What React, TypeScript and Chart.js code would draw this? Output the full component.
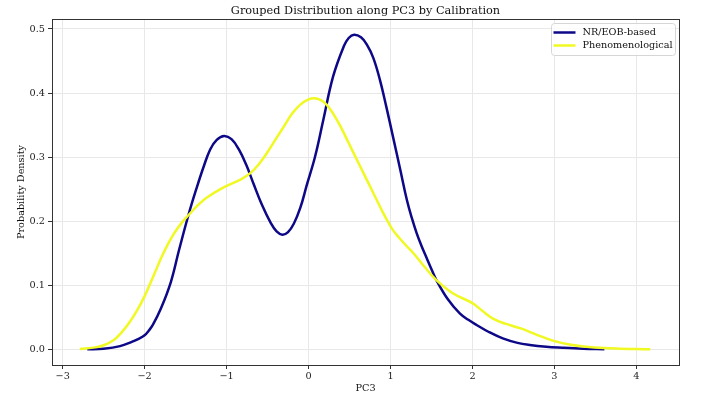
import { useEffect, useRef } from "react";
import { Chart, registerables } from "chart.js";

Chart.register(...registerables);

const TITLE = "Grouped Distribution along PC3 by Calibration";
const X_LABEL = "PC3";
const Y_LABEL = "Probability Density";

const seriesNames = ["NR/EOB-based", "Phenomenological"];
const seriesColors = ["#0d0887", "#f0f921"];

// Kernel density estimate, NR/EOB-based calibrations
const nrX = [
  -2.7, -2.5, -2.3, -2.15, -2.08, -2.0, -1.95, -1.9, -1.8, -1.68, -1.58, -1.46, -1.36, -1.28, -1.2,
  -1.12, -1.03, -0.94, -0.85, -0.76, -0.67, -0.57, -0.46, -0.39, -0.32, -0.25, -0.18, -0.1, -0.02, 0.08,
  0.18, 0.3, 0.43, 0.49, 0.556, 0.64, 0.71, 0.79, 0.87, 0.95, 1.03, 1.12, 1.2, 1.26, 1.32, 1.38, 1.44,
  1.5, 1.56, 1.7, 1.845, 1.95, 2.05, 2.2, 2.37, 2.55, 2.7, 2.9, 3.1, 3.35, 3.61,
];
const nrY = [
  0.0, 0.001, 0.005, 0.012, 0.016, 0.022, 0.029, 0.038, 0.064, 0.105, 0.155, 0.212, 0.254, 0.285, 0.312,
  0.327, 0.333, 0.328, 0.312, 0.288, 0.258, 0.226, 0.197, 0.184, 0.179, 0.183, 0.196, 0.221, 0.257, 0.301,
  0.358, 0.426, 0.473, 0.486, 0.491, 0.487, 0.476, 0.455, 0.421, 0.378, 0.332, 0.28, 0.233, 0.205, 0.181,
  0.161, 0.143, 0.125, 0.108, 0.078, 0.056, 0.046, 0.038, 0.027, 0.017, 0.01, 0.0067, 0.004, 0.0025,
  0.001, 0.0,
];

// Kernel density estimate, phenomenological calibrations
const phX = [
  -2.79, -2.6, -2.49, -2.38, -2.29, -2.19, -2.09, -2.0, -1.93, -1.86, -1.8, -1.72, -1.64, -1.55, -1.46,
  -1.35, -1.24, -1.03, -0.83, -0.71, -0.6, -0.51, -0.4, -0.3, -0.2, -0.1, 0.0, 0.07, 0.15, 0.22, 0.3,
  0.39, 0.49, 0.59, 0.69, 0.79, 0.91, 0.97, 1.03, 1.1, 1.19, 1.28, 1.42, 1.56, 1.76, 2.0, 2.12, 2.25,
  2.4, 2.58, 2.78, 2.98, 3.2, 3.39, 3.6, 3.8, 4.0, 4.17,
];
const phY = [
  0.0005, 0.003, 0.0067, 0.014, 0.025, 0.041, 0.061, 0.083, 0.103, 0.124, 0.142, 0.163, 0.181, 0.197,
  0.21, 0.225, 0.237, 0.253, 0.265, 0.275, 0.29, 0.306, 0.328, 0.348, 0.368, 0.382, 0.39, 0.392, 0.389,
  0.382, 0.368, 0.348, 0.322, 0.296, 0.27, 0.244, 0.213, 0.199, 0.186, 0.175, 0.162, 0.15, 0.128, 0.108,
  0.0875, 0.072, 0.06, 0.048, 0.04, 0.033, 0.023, 0.0135, 0.007, 0.004, 0.002, 0.001, 0.0004, 0.0,
];

const xTicks = [-3, -2, -1, 0, 1, 2, 3, 4];
const yTicks = [0.0, 0.1, 0.2, 0.3, 0.4, 0.5];
const xRange = [-3.13, 4.52];
const yRange = [-0.0245, 0.5156];

const SERIF = "'DejaVu Serif', serif";

const decorations = {
  id: "decorations",
  afterDraw(chart: any) {
    const { ctx, chartArea } = chart;
    const { left, right, top, bottom } = chartArea;
    ctx.save();

    // frame around the axes
    ctx.strokeStyle = "#333";
    ctx.lineWidth = 1;
    ctx.strokeRect(Math.round(left) + 0.5, Math.round(top) + 0.5, Math.round(right - left), Math.round(bottom - top));

    const cx = (left + right) / 2;
    ctx.fillStyle = "#111";
    ctx.textAlign = "center";

    // title
    ctx.font = `11.3px ${SERIF}`;
    ctx.textBaseline = "alphabetic";
    ctx.fillText(TITLE, cx, 14);

    // axis titles
    ctx.font = `9.7px ${SERIF}`;
    ctx.textBaseline = "middle";
    ctx.fillText(X_LABEL, cx, 388);
    ctx.save();
    ctx.translate(21, (top + bottom) / 2);
    ctx.rotate(-Math.PI / 2);
    ctx.fillText(Y_LABEL, 0, 0);
    ctx.restore();

    // legend
    const bx = 551.5, by = 23.5, bw = 124, bh = 32, r = 3;
    ctx.beginPath();
    ctx.moveTo(bx + r, by);
    ctx.lineTo(bx + bw - r, by);
    ctx.arcTo(bx + bw, by, bx + bw, by + r, r);
    ctx.lineTo(bx + bw, by + bh - r);
    ctx.arcTo(bx + bw, by + bh, bx + bw - r, by + bh, r);
    ctx.lineTo(bx + r, by + bh);
    ctx.arcTo(bx, by + bh, bx, by + bh - r, r);
    ctx.lineTo(bx, by + r);
    ctx.arcTo(bx, by, bx + r, by, r);
    ctx.closePath();
    ctx.fillStyle = "rgba(255,255,255,0.8)";
    ctx.fill();
    ctx.strokeStyle = "#d6d6d6";
    ctx.stroke();

    chart.data.datasets.forEach((ds: any, i: number) => {
      const y = 32.5 + i * 13;
      ctx.strokeStyle = ds.borderColor;
      ctx.lineWidth = 2.5;
      ctx.beginPath();
      ctx.moveTo(553.5, y);
      ctx.lineTo(575.5, y);
      ctx.stroke();
      ctx.fillStyle = "#111";
      ctx.textAlign = "left";
      ctx.font = `9.7px ${SERIF}`;
      ctx.fillText(ds.label, 582.5, y);
    });

    ctx.restore();
  },
};

export default function App() {
  const canvasRef = useRef<HTMLCanvasElement | null>(null);

  useEffect(() => {
    if (!canvasRef.current) return;
    const chart = new Chart(canvasRef.current, {
      type: "line",
      data: {
        datasets: [
          {
            label: seriesNames[0],
            data: nrX.map((x, i) => ({ x, y: nrY[i] })),
            borderColor: seriesColors[0],
            backgroundColor: seriesColors[0],
            borderWidth: 2.5,
            pointRadius: 0,
            tension: 0.4,
            fill: false,
            order: 1,
          },
          {
            label: seriesNames[1],
            data: phX.map((x, i) => ({ x, y: phY[i] })),
            borderColor: seriesColors[1],
            backgroundColor: seriesColors[1],
            borderWidth: 2.5,
            pointRadius: 0,
            tension: 0.4,
            fill: false,
            order: 0,
          },
        ],
      },
      options: {
        responsive: false,
        devicePixelRatio: 1,
        animation: false,
        layout: { padding: { top: 19, right: 27, left: 0, bottom: 0 } },
        plugins: {
          legend: { display: false },
          title: { display: false },
          tooltip: { enabled: false },
        },
        scales: {
          x: {
            type: "linear",
            min: xRange[0],
            max: xRange[1],
            afterBuildTicks: (scale: any) => {
              scale.ticks = xTicks.map((v) => ({ value: v }));
            },
            afterFit: (scale: any) => {
              scale.height = 32;
            },
            ticks: {
              font: { family: SERIF, size: 9.7 },
              color: "#222",
              padding: 2,
              maxRotation: 0,
              callback: (v: any) => String(v).replace("-", "\u2212"),
            },
            grid: { color: "#e8e8e8", lineWidth: 1, tickColor: "#333", tickLength: 4 },
            border: { display: true, color: "#333", width: 1 },
          },
          y: {
            type: "linear",
            min: yRange[0],
            max: yRange[1],
            afterBuildTicks: (scale: any) => {
              scale.ticks = yTicks.map((v) => ({ value: v }));
            },
            afterFit: (scale: any) => {
              scale.width = 52;
            },
            ticks: {
              font: { family: SERIF, size: 9.7 },
              color: "#222",
              padding: 3,
              callback: (v: any) => Number(v).toFixed(1),
            },
            grid: { color: "#e8e8e8", lineWidth: 1, tickColor: "#333", tickLength: 4 },
            border: { display: true, color: "#333", width: 1 },
          },
        },
      } as any,
      plugins: [decorations],
    });
    return () => chart.destroy();
  }, []);

  return (
    <div style={{ position: "fixed", left: 0, top: 0, width: 706, height: 397, background: "#fff" }}>
      <canvas ref={canvasRef} width={706} height={397} style={{ display: "block" }} />
    </div>
  );
}
